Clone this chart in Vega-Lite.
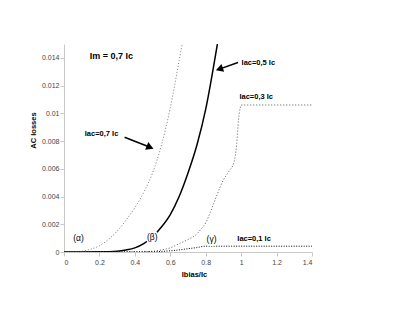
{
  "$schema": "https://vega.github.io/schema/vega-lite/v6.json",
  "width": 248,
  "height": 208,
  "autosize": "none",
  "padding": {"left": 64, "top": 44, "right": 103, "bottom": 65},
  "background": "white",
  "config": {
    "view": {"stroke": null},
    "font": "Liberation Sans",
    "axis": {
      "grid": false,
      "domainColor": "#c8c8c8",
      "tickColor": "#c8c8c8",
      "tickSize": 4,
      "labelFontSize": 7,
      "labelColor": "#444444",
      "labelOverlap": false,
      "labelFont": "Liberation Sans",
      "titleFont": "Liberation Sans",
      "titleFontSize": 7.5,
      "titleFontWeight": "bold",
      "titleColor": "black"
    }
  },
  "datasets": {
    "curves": [
      {"s": "0.7", "x": 0, "y": 0},
      {"s": "0.7", "x": 0.05, "y": 0.00001},
      {"s": "0.7", "x": 0.1, "y": 0.00005},
      {"s": "0.7", "x": 0.15, "y": 0.0002},
      {"s": "0.7", "x": 0.2, "y": 0.00045},
      {"s": "0.7", "x": 0.25, "y": 0.0009},
      {"s": "0.7", "x": 0.3, "y": 0.0015},
      {"s": "0.7", "x": 0.35, "y": 0.0023},
      {"s": "0.7", "x": 0.4, "y": 0.0032},
      {"s": "0.7", "x": 0.45, "y": 0.0043},
      {"s": "0.7", "x": 0.5, "y": 0.0057},
      {"s": "0.7", "x": 0.55, "y": 0.0077},
      {"s": "0.7", "x": 0.6, "y": 0.0104},
      {"s": "0.7", "x": 0.65, "y": 0.0138},
      {"s": "0.7", "x": 0.667, "y": 0.015},
      {"s": "0.5", "x": 0, "y": 0},
      {"s": "0.5", "x": 0.1, "y": 0},
      {"s": "0.5", "x": 0.2, "y": 0.00001},
      {"s": "0.5", "x": 0.3, "y": 0.00006},
      {"s": "0.5", "x": 0.35, "y": 0.00015},
      {"s": "0.5", "x": 0.4, "y": 0.0003},
      {"s": "0.5", "x": 0.45, "y": 0.0006},
      {"s": "0.5", "x": 0.5, "y": 0.0011},
      {"s": "0.5", "x": 0.55, "y": 0.0018},
      {"s": "0.5", "x": 0.6, "y": 0.0027},
      {"s": "0.5", "x": 0.65, "y": 0.0040},
      {"s": "0.5", "x": 0.7, "y": 0.0057},
      {"s": "0.5", "x": 0.75, "y": 0.0077},
      {"s": "0.5", "x": 0.8, "y": 0.0103},
      {"s": "0.5", "x": 0.85, "y": 0.0138},
      {"s": "0.5", "x": 0.866, "y": 0.015},
      {"s": "0.3", "x": 0, "y": 0},
      {"s": "0.3", "x": 0.4, "y": 0},
      {"s": "0.3", "x": 0.5, "y": 0.00005},
      {"s": "0.3", "x": 0.55, "y": 0.00015},
      {"s": "0.3", "x": 0.6, "y": 0.0003},
      {"s": "0.3", "x": 0.65, "y": 0.0006},
      {"s": "0.3", "x": 0.7, "y": 0.0009},
      {"s": "0.3", "x": 0.75, "y": 0.0013},
      {"s": "0.3", "x": 0.77, "y": 0.0016},
      {"s": "0.3", "x": 0.8, "y": 0.0021},
      {"s": "0.3", "x": 0.83, "y": 0.003},
      {"s": "0.3", "x": 0.86, "y": 0.004},
      {"s": "0.3", "x": 0.9, "y": 0.0052},
      {"s": "0.3", "x": 0.93, "y": 0.0058},
      {"s": "0.3", "x": 0.96, "y": 0.0065},
      {"s": "0.3", "x": 0.975, "y": 0.0078},
      {"s": "0.3", "x": 0.985, "y": 0.0095},
      {"s": "0.3", "x": 0.995, "y": 0.0104},
      {"s": "0.3", "x": 1.0, "y": 0.0106},
      {"s": "0.3", "x": 1.4, "y": 0.0106},
      {"s": "0.1", "x": 0, "y": 0},
      {"s": "0.1", "x": 0.5, "y": 0.00002},
      {"s": "0.1", "x": 0.6, "y": 0.00009},
      {"s": "0.1", "x": 0.65, "y": 0.00015},
      {"s": "0.1", "x": 0.7, "y": 0.00024},
      {"s": "0.1", "x": 0.75, "y": 0.00032},
      {"s": "0.1", "x": 0.79, "y": 0.00041},
      {"s": "0.1", "x": 0.8, "y": 0.00042},
      {"s": "0.1", "x": 1.4, "y": 0.00042}
    ],
    "labels": [
      {"t": "Iac=0,7 Ic", "x": 0.212, "y": 0.00849},
      {"t": "Iac=0,5 Ic", "x": 1.097, "y": 0.01366},
      {"t": "Iac=0,3 Ic", "x": 1.085, "y": 0.01118},
      {"t": "Iac=0,1 Ic", "x": 1.073, "y": 0.00097}
    ],
    "greek": [
      {"t": "(α)", "x": 0.082, "y": 0.00099},
      {"t": "(β)", "x": 0.498, "y": 0.00108},
      {"t": "(γ)", "x": 0.833, "y": 0.00097}
    ],
    "arrows": [
      {"a": "a1", "x": 0.342, "y": 0.00827, "x2": 0.486, "y2": 0.00755},
      {"a": "a2", "x": 0.982, "y": 0.01366, "x2": 0.877, "y2": 0.01319}
    ],
    "heads": [
      {"a": "a1", "x": 0.486, "y": 0.00755},
      {"a": "a2", "x": 0.877, "y": 0.01319}
    ]
  },
  "encoding": {
    "x": {"field": "x", "type": "quantitative", "scale": {"domain": [0, 1.4], "nice": false},
      "axis": {"values": [0, 0.2, 0.4, 0.6, 0.8, 1, 1.2, 1.4], "format": "~g", "labelOverlap": false, "title": "Ibias/Ic", "labelPadding": 2, "titlePadding": 5, "titleX": 130}},
    "y": {"field": "y", "type": "quantitative", "scale": {"domain": [0, 0.015], "nice": false},
      "axis": {"values": [0, 0.002, 0.004, 0.006, 0.008, 0.01, 0.012, 0.014], "format": "~g", "labelOverlap": false, "title": "AC losses", "labelPadding": 1, "titlePadding": 4, "titleY": 86}}
  },
  "layer": [
    {
      "data": {"name": "curves"},
      "transform": [{"filter": "datum.s == '0.7'"}],
      "mark": {"type": "line", "color": "#777777", "strokeWidth": 1, "strokeDash": [1, 2], "interpolate": "monotone", "clip": true}
    },
    {
      "data": {"name": "curves"},
      "transform": [{"filter": "datum.s == '0.5'"}],
      "mark": {"type": "line", "color": "black", "strokeWidth": 1.5, "interpolate": "monotone", "clip": true}
    },
    {
      "data": {"name": "curves"},
      "transform": [{"filter": "datum.s == '0.3'"}],
      "mark": {"type": "line", "color": "#555555", "strokeWidth": 1, "strokeDash": [1, 2], "interpolate": "monotone", "clip": true}
    },
    {
      "data": {"name": "curves"},
      "transform": [{"filter": "datum.s == '0.1'"}],
      "mark": {"type": "line", "color": "black", "strokeWidth": 1, "strokeDash": [1, 1.5], "interpolate": "monotone", "clip": true}
    },
    {
      "data": {"values": [{"t": "Im = 0,7 Ic", "x": 0.267, "y": 0.01411}]},
      "mark": {"type": "text", "fontSize": 9, "fontWeight": "bold", "fill": "black", "font": "Liberation Sans"},
      "encoding": {"text": {"field": "t"}}
    },
    {
      "data": {"name": "labels"},
      "mark": {"type": "text", "fontSize": 7.5, "fontWeight": "bold", "fill": "black", "font": "Liberation Sans"},
      "encoding": {"text": {"field": "t"}}
    },
    {
      "data": {"name": "greek"},
      "mark": {"type": "text", "fontSize": 8.5, "fill": "white", "stroke": "white", "strokeWidth": 3, "font": "Liberation Sans"},
      "encoding": {"text": {"field": "t"}}
    },
    {
      "data": {"name": "greek"},
      "mark": {"type": "text", "fontSize": 8.5, "fill": "black", "font": "Liberation Sans"},
      "encoding": {"text": {"field": "t"}}
    },
    {
      "data": {"name": "arrows"},
      "mark": {"type": "rule", "color": "black", "strokeWidth": 1.5},
      "encoding": {"x2": {"field": "x2"}, "y2": {"field": "y2"}}
    },
    {
      "data": {"name": "heads"},
      "transform": [{"filter": "datum.a == 'a1'"}],
      "mark": {"type": "point", "shape": "triangle-right", "filled": true, "color": "black", "opacity": 1, "size": 70, "angle": 22}
    },
    {
      "data": {"name": "heads"},
      "transform": [{"filter": "datum.a == 'a2'"}],
      "mark": {"type": "point", "shape": "triangle-right", "filled": true, "color": "black", "opacity": 1, "size": 70, "angle": 161}
    }
  ]
}
